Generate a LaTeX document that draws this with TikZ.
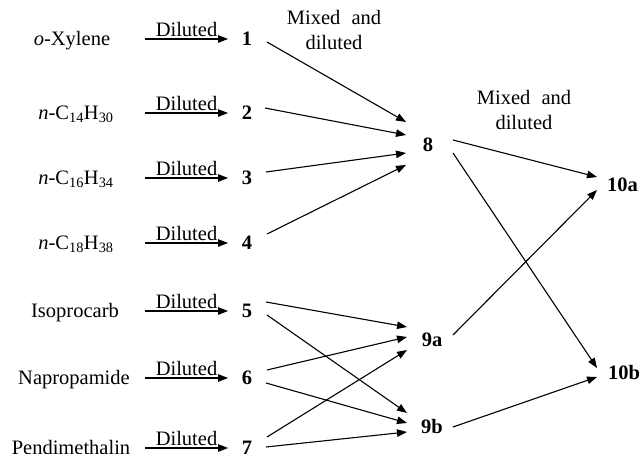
\documentclass[tikz,border=0pt]{standalone}
\usepackage{fontspec}
\setmainfont{Liberation Serif}
\usetikzlibrary{arrows.meta}
\begin{document}
\begin{tikzpicture}[x=1pt,y=-1pt,
  every node/.style={font=\fontsize{20.5}{25}\selectfont},
  txt/.style={inner sep=0pt,text height=14pt,text depth=5pt},
  num/.style={txt,font=\fontsize{20.5}{25}\selectfont\bfseries},
  arr/.style={line width=1.1pt,-{Triangle[length=10pt,width=7.5pt]}},
  lbl/.style={above,inner sep=1.5pt}]
\useasboundingbox (0,0) rectangle (643,454);

% starting compounds
\node[txt] (s1) at (72,41) {\textit{o}-Xylene};
\node[txt] (s2) at (76,115) {\textit{n}-C\textsubscript{14}H\textsubscript{30}};
\node[txt] (s3) at (76,180) {\textit{n}-C\textsubscript{16}H\textsubscript{34}};
\node[txt] (s4) at (76,245) {\textit{n}-C\textsubscript{18}H\textsubscript{38}};
\node[txt] (s5) at (75,313) {Isoprocarb};
\node[txt] (s6) at (74,380) {Napropamide};
\node[txt] (s7) at (71,450) {Pendimethalin};

% diluted solutions
\node[num] (n1) at (247,41) {1};
\node[num] (n2) at (247,115) {2};
\node[num] (n3) at (247,180) {3};
\node[num] (n4) at (247,245) {4};
\node[num] (n5) at (247,313) {5};
\node[num] (n6) at (247,380) {6};
\node[num] (n7) at (247,450) {7};

% mixtures
\node[num] (n8) at (428,147) {8};
\node[num] (n9a) at (432,342) {9a};
\node[num] (n9b) at (432,429) {9b};
\node[num,anchor=west] (n10a) at (607,187) {10a};
\node[num,anchor=west] (n10b) at (608,375) {10b};

% dilution arrows
\foreach \i/\y in {1/39,2/113,3/178,4/243,5/311,6/378,7/448}{
  \coordinate (a\i) at (145,\y);
  \coordinate (b\i) at (228,\y);
  \draw[arr] (a\i) -- node[lbl] {Diluted} (b\i);
}

\node[align=center,inner sep=0pt] (m1) at (334,30) {Mixed\hspace{6pt} and\\diluted};
\node[align=center,inner sep=0pt] (m2) at (524,110) {Mixed\hspace{6pt} and\\diluted};

% first mixing step
\draw[arr] ([shift={(20,1)}]n1.center) -- ([shift={(-22,-25)}]n8.center);
\draw[arr] ([shift={(18,-7)}]n2.center) -- ([shift={(-22,-12)}]n8.center);
\draw[arr] ([shift={(19,-8)}]n3.center) -- ([shift={(-22,6)}]n8.center);
\draw[arr] ([shift={(20,-11)}]n4.center) -- ([shift={(-22,18)}]n8.center);

\draw[arr] ([shift={(19,-11)}]n5.center) -- ([shift={(-25,-15)}]n9a.center);
\draw[arr] ([shift={(20,2)}]n5.center) -- ([shift={(-25,-16)}]n9b.center);
\draw[arr] ([shift={(20,-10)}]n6.center) -- ([shift={(-25,-5)}]n9a.center);
\draw[arr] ([shift={(19,3)}]n6.center) -- ([shift={(-25,-6)}]n9b.center);
\draw[arr] ([shift={(20,-13)}]n7.center) -- ([shift={(-25,8)}]n9a.center);
\draw[arr] ([shift={(19,-3)}]n7.center) -- ([shift={(-25,3)}]n9b.center);

% second mixing step
\draw[arr] ([shift={(25,-7)}]n8.center) -- ([shift={(-10,-10)}]n10a.west);
\draw[arr] ([shift={(25,6)}]n8.center) -- ([shift={(-11,-7)}]n10b.west);
\draw[arr] ([shift={(21,-7)}]n9a.center) -- ([shift={(-10,3)}]n10a.west);
\draw[arr] ([shift={(21,-2)}]n9b.center) -- ([shift={(-11,2)}]n10b.west);
\end{tikzpicture}
\end{document}
